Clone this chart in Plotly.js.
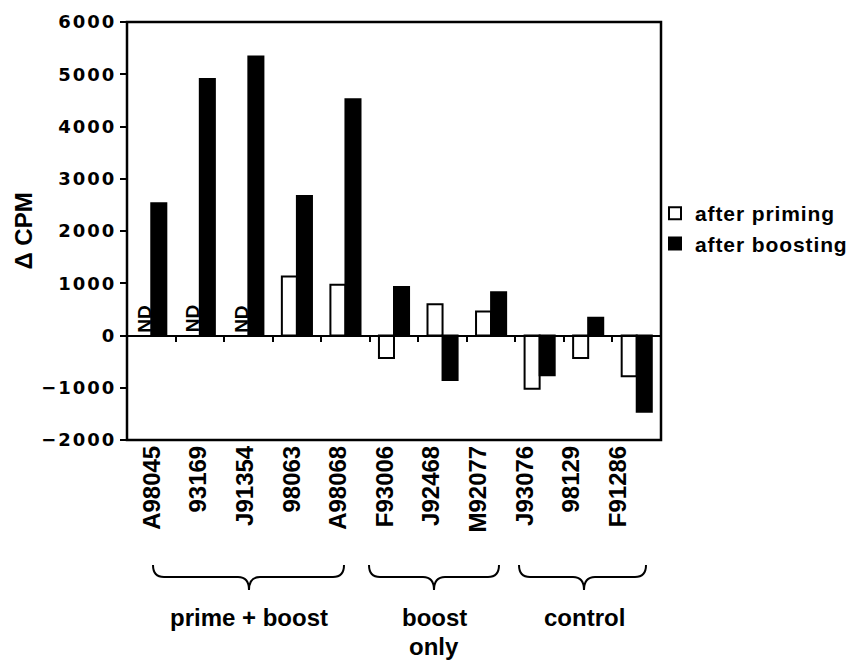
<!DOCTYPE html>
<html><head><meta charset="utf-8">
<script src="https://cdn.plot.ly/plotly-3.0.1.min.js"></script>
<style>
body{margin:0;background:#fff}
#chart{width:860px;height:660px}
.ytick text{letter-spacing:2px}
.legendtext{letter-spacing:0.9px}
</style></head><body><div id="chart"></div>
<script>
const subjects = ["A98045","93169","J91354","98063","A98068","F93006","J92468","M92077","J93076","98129","F91286"];
const afterPriming = [null,null,null,1130,970,-430,600,460,-1020,-430,-780];
const afterBoosting = [2530,4910,5340,2670,4520,930,-850,830,-760,340,-1460];
const notDetermined = ["A98045","93169","J91354"];
const yTicks = [-2000,-1000,0,1000,2000,3000,4000,5000,6000];
const groupLabels = ["prime + boost","boost","only","control"];

const LF = 'Liberation Sans', DF = 'DejaVu Sans';
const bold = (size, fam) => ({family:fam||LF, size:size, color:'#000', weight:'bold'});

// pixel helpers for the decorative braces and group captions below the plot
const px2x = p => (p-127)/534;
const py2y = p => (440-p)/418;
function brace(a,b,m){
  const yt=py2y(565), ym=py2y(577), yb=py2y(590), r=11;
  const X=px2x;
  return `M${X(a)},${yt} Q${X(a)},${ym} ${X(a+r)},${ym} L${X(m-r)},${ym} Q${X(m)},${ym} ${X(m)},${yb} Q${X(m)},${ym} ${X(m+r)},${ym} L${X(b-r)},${ym} Q${X(b)},${ym} ${X(b)},${yt}`;
}

const traces = [
  {type:'bar', x:subjects, y:afterPriming, name:'after priming', legendgroup:'a',
   marker:{color:'#fff', line:{color:'#000', width:2}}, hoverinfo:'x+y'},
  {type:'bar', x:subjects, y:afterBoosting, name:'after boosting', legendgroup:'b',
   marker:{color:'#000', line:{color:'#000', width:2}}, hoverinfo:'x+y'},
  {type:'scatter', mode:'markers', x:subjects, y:subjects.map(()=>null), xaxis:'x2', yaxis:'y',
   showlegend:false, hoverinfo:'skip'}
];

const annotations = notDetermined.map(s => ({
  x:subjects.indexOf(s), y:0, xref:'x', yref:'y', text:'<b>ND</b>', textangle:-90, showarrow:false,
  xanchor:'center', yanchor:'bottom', xshift:-7.5, yshift:1, font:bold(19)
}));
const gl = [[groupLabels[0],249,617],[groupLabels[1],434,617],[groupLabels[2],434,646],[groupLabels[3],584,617]];
gl.forEach(([t,x,y]) => annotations.push({x:px2x(x), y:py2y(y), xref:'paper', yref:'paper', text:t,
  showarrow:false, xanchor:'center', yanchor:'middle', font:bold(24)}));

const layout = {
  width:860, height:660,
  margin:{l:127, r:199, t:22, b:220, pad:0, autoexpand:false},
  paper_bgcolor:'#fff', plot_bgcolor:'rgba(0,0,0,0)',
  font:bold(18),
  barmode:'group', bargap:0.38, bargroupgap:0,
  showlegend:true,
  legend:{x:px2x(655), y:py2y(193), xanchor:'left', yanchor:'top', font:bold(21),
    traceorder:'normal', tracegroupgap:4, itemwidth:30, bgcolor:'rgba(0,0,0,0)'},
  xaxis:{type:'category', categoryarray:subjects, categoryorder:'array', range:[-0.5,10.5],
    anchor:'free', position:0.25, showticklabels:false, ticks:'outside', tickson:'boundaries',
    ticklen:5, tickwidth:2, tickcolor:'#000', showline:false, showgrid:false, zeroline:false, fixedrange:true},
  xaxis2:{type:'category', categoryarray:subjects, categoryorder:'array', range:[-0.5,10.5],
    domain:[0.0032,0.963], anchor:'y', side:'bottom', showline:false, ticks:'', showgrid:false,
    zeroline:false, tickangle:-90, tickfont:bold(24), fixedrange:true},
  yaxis:{range:[-2000,6000], tickmode:'array', tickvals:yTicks, ticks:'outside', ticklen:6, tickwidth:2,
    tickcolor:'#000', showline:false, showgrid:false, zeroline:true, zerolinecolor:'#000', zerolinewidth:2,
    tickfont:bold(18, DF), title:{text:'Δ CPM', font:bold(24), standoff:1}, fixedrange:true},
  shapes:[
    {type:'rect', xref:'paper', yref:'paper', x0:0, x1:1, y0:0, y1:1, line:{color:'#000', width:2.5}},
    {type:'path', xref:'paper', yref:'paper', path:brace(153,344,249), line:{color:'#000', width:2}},
    {type:'path', xref:'paper', yref:'paper', path:brace(369,499,434), line:{color:'#000', width:2}},
    {type:'path', xref:'paper', yref:'paper', path:brace(519,646,584), line:{color:'#000', width:2}}
  ],
  annotations:annotations
};
Plotly.newPlot('chart', traces, layout, {displayModeBar:false, staticPlot:true});
</script></body></html>
